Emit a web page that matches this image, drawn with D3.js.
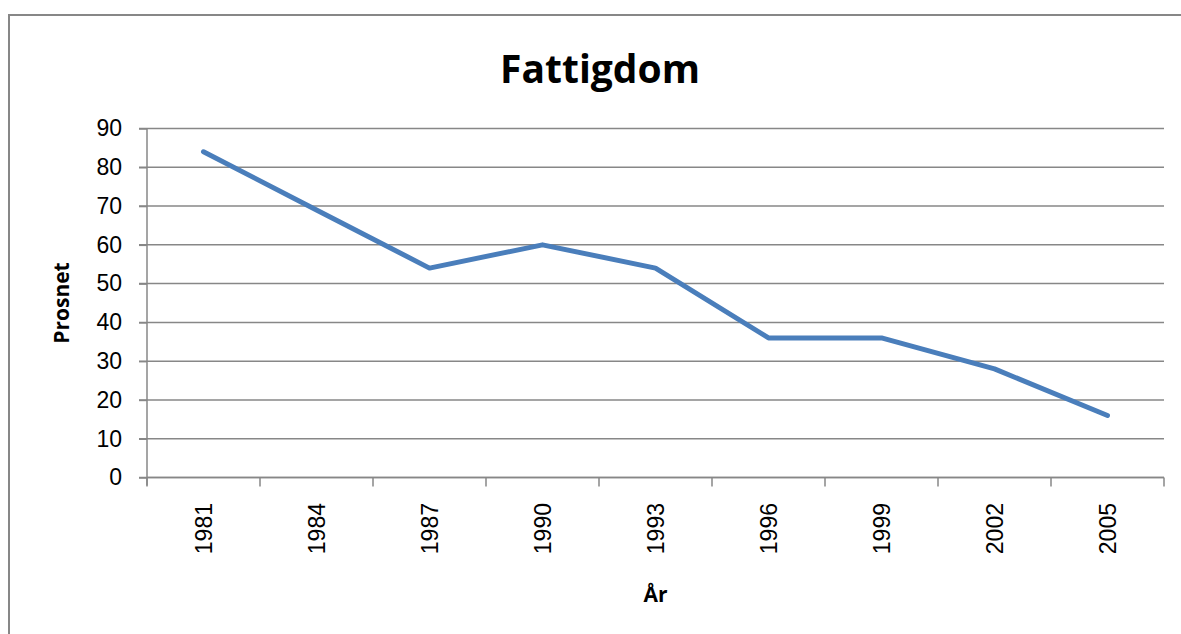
<!DOCTYPE html>
<html>
<head>
<meta charset="utf-8">
<script src="https://cdn.jsdelivr.net/npm/d3@7"></script>
<style>
  html, body { margin: 0; padding: 0; background: #fff; }
</style>
</head>
<body>
<svg id="chart" width="1181" height="634"></svg>
<script>
const years = ['1981', '1984', '1987', '1990', '1993', '1996', '1999', '2002', '2005']
const values = [84, 69, 54, 60, 54, 36, 36, 28, 16]
const yTicks = [0, 10, 20, 30, 40, 50, 60, 70, 80, 90]

const svg = d3.select('#chart')
const plotLeft = 147, plotRight = 1164, plotTop = 128.5, plotBottom = 477.5
const gray = '#878787'

// chart border (runs off the right and bottom edge like the source)
svg.append('rect')
  .attr('x', 9).attr('y', 15)
  .attr('width', 1200).attr('height', 700)
  .attr('fill', 'none')
  .attr('stroke', gray)
  .attr('stroke-width', 2)

const x = d3.scaleBand().domain(years).range([plotLeft, plotRight])
const y = d3.scaleLinear().domain([0, 90]).range([plotBottom, plotTop])

// gridlines
svg.append('g')
  .selectAll('line')
  .data(yTicks)
  .enter()
  .append('line')
  .attr('x1', plotLeft - 8).attr('x2', plotRight)
  .attr('y1', d => y(d)).attr('y2', d => y(d))
  .attr('stroke', gray)
  .attr('stroke-width', 1.5)

// y axis
const yAxis = svg.append('g')
  .attr('transform', `translate(${plotLeft},0)`)
  .call(d3.axisLeft(y).tickValues(yTicks).tickSize(8).tickPadding(17))
yAxis.select('.domain').remove()
yAxis.selectAll('line').attr('stroke', gray).attr('stroke-width', 1.5)
yAxis.selectAll('text')
  .attr('font-family', "'Liberation Sans', Arial, sans-serif")
  .attr('font-size', 23)
  .attr('fill', '#000')

svg.append('line')
  .attr('x1', plotLeft).attr('x2', plotLeft)
  .attr('y1', plotTop).attr('y2', plotBottom + 8)
  .attr('stroke', gray).attr('stroke-width', 1.5)

// x axis with ticks at band edges
const xAxis = svg.append('g')
  .attr('transform', `translate(0,${plotBottom})`)
xAxis.append('line')
  .attr('x1', plotLeft).attr('x2', plotRight)
  .attr('stroke', gray).attr('stroke-width', 1.5)
const edges = years.map(d => x(d)).concat([x(years[years.length - 1]) + x.bandwidth()])
xAxis.selectAll('.tick')
  .data(edges)
  .enter()
  .append('line')
  .attr('x1', d => d).attr('x2', d => d)
  .attr('y1', 0).attr('y2', 9)
  .attr('stroke', gray).attr('stroke-width', 1.5)

svg.append('g')
  .selectAll('text')
  .data(years)
  .enter()
  .append('text')
  .attr('transform', d => `translate(${x(d) + x.bandwidth() / 2},503) rotate(-90)`)
  .attr('text-anchor', 'end')
  .attr('dy', '0.35em')
  .attr('font-family', "'Liberation Sans', Arial, sans-serif")
  .attr('font-size', 23)
  .attr('fill', '#000')
  .text(d => d)

// the line
const line = d3.line()
  .x((d, i) => x(years[i]) + x.bandwidth() / 2)
  .y(d => y(d))

svg.append('path')
  .datum(values)
  .attr('d', line)
  .attr('fill', 'none')
  .attr('stroke', '#4a7ebb')
  .attr('stroke-width', 5)
  .attr('stroke-linecap', 'round')
  .attr('stroke-linejoin', 'round')

// titles
svg.append('text')
  .attr('x', 600).attr('y', 83)
  .attr('text-anchor', 'middle')
  .attr('font-family', "'Open Sans', sans-serif")
  .attr('font-weight', 'bold')
  .attr('font-size', 39)
  .text('Fattigdom')

svg.append('text')
  .attr('transform', `translate(69,${(plotTop + plotBottom) / 2}) rotate(-90)`)
  .attr('text-anchor', 'middle')
  .attr('font-family', "'Open Sans', sans-serif")
  .attr('font-weight', 'bold')
  .attr('font-size', 21)
  .text('Prosnet')

svg.append('text')
  .attr('x', (plotLeft + plotRight) / 2).attr('y', 602)
  .attr('text-anchor', 'middle')
  .attr('font-family', "'Open Sans', sans-serif")
  .attr('font-weight', 'bold')
  .attr('font-size', 21)
  .text('År')
</script>
</body>
</html>
